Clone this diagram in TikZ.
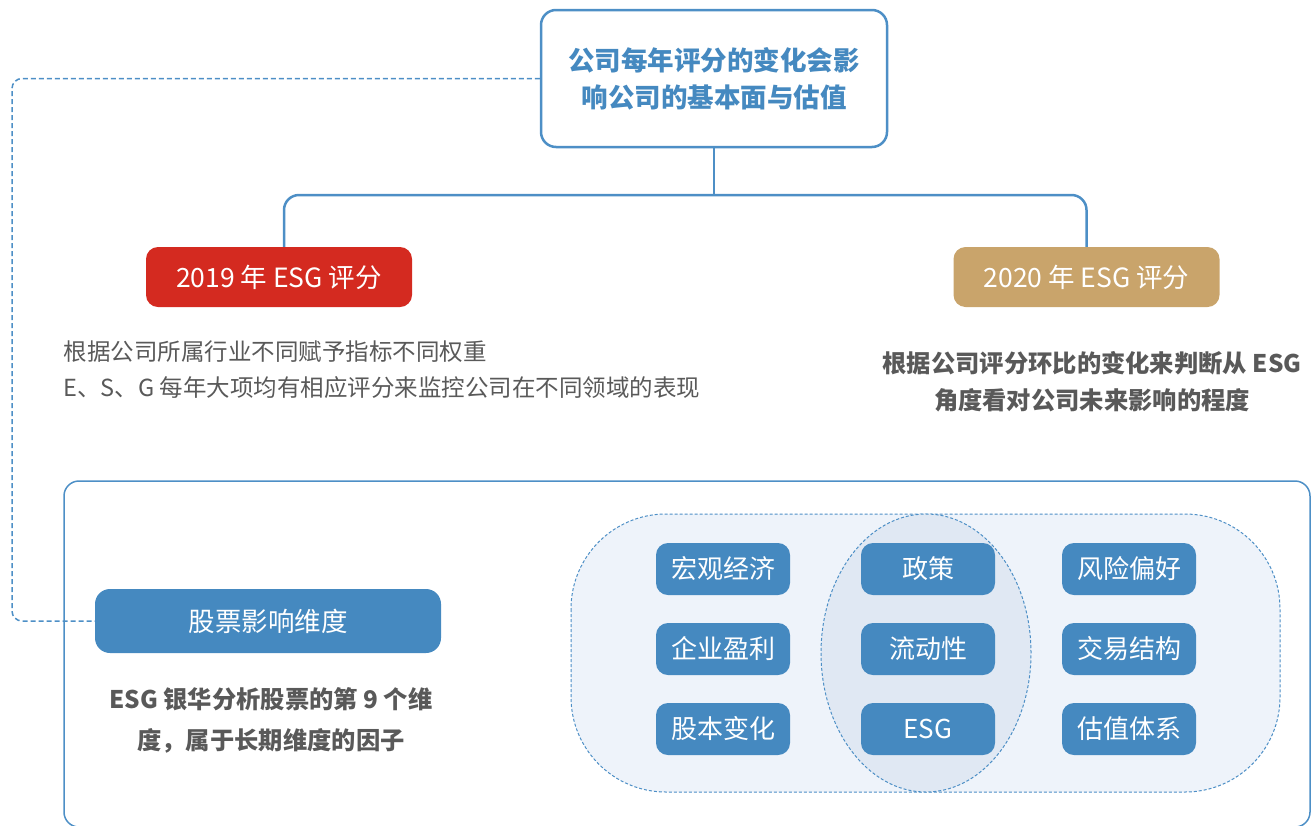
\documentclass[tikz,border=0pt]{standalone}
\usepackage{fontspec}
\setmainfont{Noto Sans CJK SC}
\usetikzlibrary{positioning}

\definecolor{esgblue}{HTML}{4589C0}
\definecolor{lineblue}{HTML}{4D8FC6}
\definecolor{esgred}{HTML}{D42A20}
\definecolor{esgtan}{HTML}{C9A46B}
\definecolor{txtgray}{HTML}{595959}
\definecolor{paleblue}{HTML}{EEF3FA}
\definecolor{midblue}{HTML}{E0E8F3}

\begin{document}
\begin{tikzpicture}[x=1pt,y=1pt,
	% Box styles
	topbox/.style={rectangle,rounded corners=15pt,draw=lineblue,line width=2.5pt,fill=white,minimum width=346pt,minimum height=137pt,align=center,text=esgblue,font=\fontsize{26.5}{37}\selectfont\bfseries},
	yearbox/.style={rectangle,rounded corners=12pt,minimum width=266pt,minimum height=60pt,text=white,font=\fontsize{26.5}{30}\selectfont},
	factor/.style={rectangle,rounded corners=12pt,fill=esgblue,minimum width=134pt,minimum height=52pt,inner sep=0pt,text=white,font=\fontsize{26}{29}\selectfont},
	note/.style={text=txtgray,font=\fontsize{23.5}{36}\selectfont},
	% Line styles
	conn/.style={draw=lineblue,line width=2.5pt,rounded corners=15pt},
	dashline/.style={draw=lineblue,line width=1.5pt,dash pattern=on 5pt off 3pt,rounded corners=10pt}
	]
	\useasboundingbox (0,0) rectangle (1313,-825);
	%% Top of the tree
	\node[topbox] (top) at (714,-78.5) {公司每年评分的变化会影\\响公司的基本面与估值};
	\node[yearbox,fill=esgred] (y19) at (279,-277) {2019 年 ESG 评分};
	\node[yearbox,fill=esgtan] (y20) at (1086.5,-277) {2020 年 ESG 评分};
	\coordinate (split) at (714,-195);
	\draw[conn] (top.south) -- (split);
	\draw[conn] ([xshift=5pt]y19.north) |- (split) -| (y20.north);
	%% Notes under the years
	\node[note,anchor=west,align=left] (note19) at (60,-370) {根据公司所属行业不同赋予指标不同权重\\E、S、G 每年大项均有相应评分来监控公司在不同领域的表现};
	\node[note,align=center,font=\fontsize{24.3}{37}\selectfont\bfseries] (note20) at (1092,-382) {根据公司评分环比的变化来判断从 ESG\\角度看对公司未来影响的程度};
	%% Lower frame
	\draw[draw=lineblue,line width=1.5pt,rounded corners=15pt] (64,-481) rectangle (1310,-827);
	\node[factor,minimum width=346pt,minimum height=64pt,rounded corners=15pt,font=\fontsize{26.5}{30}\selectfont] (stock) at (268,-621) {股票影响维度};
	\node[note,align=center,font=\fontsize{24.3}{41}\selectfont\bfseries] (stocknote) at (271,-720) {ESG 银华分析股票的第 9 个维\\度，属于长期维度的因子};
	\coordinate (bend) at (12,-78.5);
	\draw[dashline] (top.west) -- (bend) |- (stock.west);
	%% Factor groups
	\draw[fill=paleblue,draw=lineblue,line width=1pt,dash pattern=on 3pt off 2pt,rounded corners=95pt] (571,-514) rectangle (1280,-792);
	\draw[fill=midblue,draw=lineblue,line width=1pt,dash pattern=on 3pt off 2pt] (926,-653) ellipse [x radius=105, y radius=139];
	\node[factor] (macro) at (723,-569) {宏观经济};
	\node[factor] (profit) at (723,-649) {企业盈利};
	\node[factor] (shares) at (723,-729) {股本变化};
	\node[factor] (policy) at (928,-569) {政策};
	\node[factor] (liquid) at (928,-649) {流动性};
	\node[factor] (esg) at (928,-729) {ESG};
	\node[factor] (risk) at (1129,-569) {风险偏好};
	\node[factor] (trade) at (1129,-649) {交易结构};
	\node[factor] (value) at (1129,-729) {估值体系};
\end{tikzpicture}
\end{document}
